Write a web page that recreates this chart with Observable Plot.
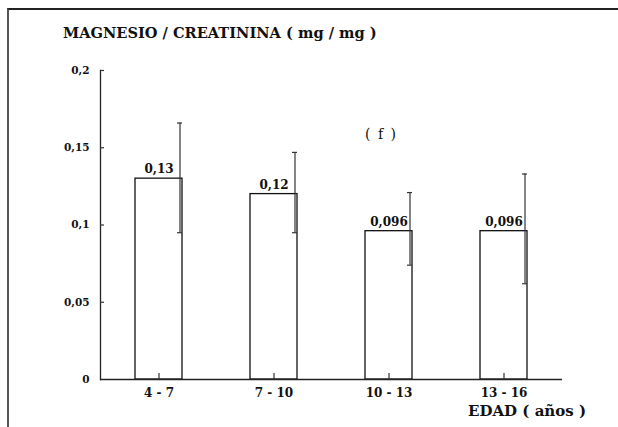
<!DOCTYPE html>
<html>
<head>
<meta charset="utf-8">
<script src="https://cdn.jsdelivr.net/npm/d3@7"></script>
<script src="https://cdn.jsdelivr.net/npm/@observablehq/plot@0.6"></script>
<style>
  body { margin: 0; background: #fff; }
  #wrap { position: relative; width: 618px; height: 427px; overflow: hidden; font-family: "DejaVu Serif", serif; font-weight: bold; color: #111; }
  #frame { position: absolute; left: 7px; top: 8px; width: 700px; height: 500px; border-top: 2px solid #222; border-left: 2px solid #555; }
  #title { position: absolute; left: 63px; top: 24px; font-size: 14.6px; white-space: nowrap; }
  #note { position: absolute; left: 365px; top: 126px; font-size: 14px; font-weight: normal; white-space: nowrap; word-spacing: 3px; }
  #xlab { position: absolute; left: 468px; top: 402px; font-size: 15px; white-space: nowrap; }
  #chart { position: absolute; left: 0; top: 0; }
</style>
</head>
<body>
<div id="wrap">
  <div id="frame"></div>
  <div id="chart"></div>
  <div id="title">MAGNESIO / CREATININA ( mg / mg )</div>
  <div id="note">( f )</div>
  <div id="xlab">EDAD ( años )</div>
</div>
<script>
const categories = ["4 - 7", "7 - 10", "10 - 13", "13 - 16"];
const means = [0.13, 0.12, 0.096, 0.096];
const errLow = [0.095, 0.095, 0.074, 0.062];
const errHigh = [0.166, 0.147, 0.121, 0.133];
const yTicks = [0, 0.05, 0.1, 0.15, 0.2];
const yTickLabels = ["0", "0,05", "0,1", "0,15", "0,2"];

const data = categories.map((c, i) => ({cat: c, mean: means[i], lo: errLow[i], hi: errHigh[i]}));
const fmtVal = v => String(v).replace(".", ",");

const W = 618, H = 427, ML = 100, MR = 56, MT = 70, MB = 48;
const frameW = W - ML - MR, frameH = H - MT - MB;

const chart = Plot.plot({
  width: W,
  height: H,
  marginLeft: ML,
  marginRight: MR,
  marginTop: MT,
  marginBottom: MB,
  x: {domain: categories, paddingInner: 0.595, paddingOuter: 0.289},
  y: {domain: [0, 0.2]},
  style: {fontFamily: "DejaVu Serif", fontWeight: "bold", color: "#111", background: "transparent"},
  marks: [
    Plot.barY(data, {x: "cat", y: "mean", fill: "white", stroke: "#111", strokeWidth: 1.3}),
    Plot.frame({anchor: "left", stroke: "#222", strokeWidth: 1.3}),
    Plot.ruleY([0], {stroke: "#222", strokeWidth: 1.3}),
    // inward y ticks
    Plot.tickY(yTicks.slice(1), {y: d => d, insetRight: frameW - 4, stroke: "#333", strokeWidth: 1.2}),
    // upward x ticks at band centres
    Plot.tickX(categories, {x: d => d, insetTop: frameH - 6, stroke: "#333", strokeWidth: 1.2}),
    Plot.ruleX(data, {x: "cat", y1: "lo", y2: "hi", dx: 21, stroke: "#333", strokeWidth: 1.2}),
    Plot.tickY(data, {x: "cat", y: "hi", insetLeft: 42, insetRight: 0, stroke: "#333", strokeWidth: 1.2}),
    Plot.tickY(data, {x: "cat", y: "lo", insetLeft: 42, insetRight: 0, stroke: "#333", strokeWidth: 1.2}),
    Plot.text(data, {x: "cat", y: "mean", text: d => fmtVal(d.mean), dy: -9, fontSize: 12, fontWeight: "bold"}),
    Plot.axisY({ticks: yTicks, tickFormat: d => yTickLabels[yTicks.indexOf(d)], tickSize: 0, tickPadding: 11, fontSize: 10.5, label: null}),
    Plot.axisX({tickSize: 0, tickPadding: 9, fontSize: 12, label: null})
  ]
});
document.getElementById("chart").appendChild(chart);
</script>
</body>
</html>
